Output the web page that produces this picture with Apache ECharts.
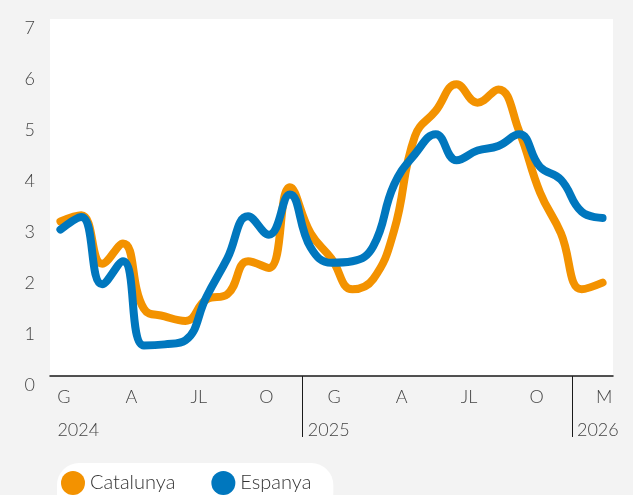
<!DOCTYPE html>
<html>
<head>
<meta charset="utf-8">
<script src="https://cdn.jsdelivr.net/npm/echarts@6/dist/echarts.min.js"></script>
<style>
html,body{margin:0;padding:0;background:#f3f3f3;}
#chart{width:633px;height:495px;}
</style>
</head>
<body>
<div id="chart"></div>
<script>
// Monthly data, Jan 2024 - Mar 2026
var months = ['2024-01','2024-02','2024-03','2024-04','2024-05','2024-06','2024-07','2024-08','2024-09','2024-10','2024-11','2024-12',
              '2025-01','2025-02','2025-03','2025-04','2025-05','2025-06','2025-07','2025-08','2025-09','2025-10','2025-11','2025-12',
              '2026-01','2026-02','2026-03'];
var catalunya = [3.03,3.15,2.2,2.6,1.32,1.17,1.08,1.5,1.6,2.25,2.12,3.7,
                 2.8,2.3,1.7,1.9,2.85,4.7,5.2,5.72,5.36,5.62,4.8,3.6,
                 2.8,1.7,1.83];
var espanya = [2.87,3.12,1.8,2.25,0.6,0.62,0.7,1.55,2.3,3.13,2.77,3.56,
               2.52,2.22,2.25,2.54,3.75,4.35,4.74,4.23,4.42,4.51,4.74,4.1,
               3.85,3.22,3.1];
var monthTicks = ['G','A','JL','O','G','A','JL','O','M'];
var yearTicks = ['2024','2025','2026'];
var seriesNames = ['Catalunya','Espanya'];
var colors = ['#f39200','#0077be'];

// label axis: 25 bands, a tick label every 3rd band
var labelCats = [];
for (var i = 0; i < 25; i++) labelCats.push(i % 3 === 0 ? monthTicks[i / 3] : '');
var yearPos = [0.33, 11.45, 23.4];
var sepPos = [11.22, 23.17];

var font = 'Lato, "Open Sans", sans-serif';
var chart = echarts.init(document.getElementById('chart'), null, {renderer:'canvas'});
chart.setOption({
  animation: false,
  backgroundColor: '#f3f3f3',
  grid: {left: 50, right: 20, top: 19, bottom: 119, show: true, backgroundColor: '#ffffff', borderWidth: 0},
  xAxis: [
    {type: 'category', data: months, boundaryGap: true, show: false},
    {type: 'category', data: labelCats, boundaryGap: true, position: 'bottom',
     axisLine: {show: true, lineStyle: {color: '#1a1a1a', width: 1.5}},
     axisTick: {show: false},
     axisLabel: {interval: 2, margin: 12, color: '#444', fontFamily: font, fontWeight: 300, fontSize: 18, padding: [0,0,0,5]},
     splitLine: {show: false}},
    {type: 'value', min: 0, max: 25, position: 'bottom',
     axisLine: {show: false},
     splitLine: {show: false},
     axisTick: {show: true, customValues: sepPos, length: 61, lineStyle: {color: '#1a1a1a', width: 1}},
     axisLabel: {show: true, customValues: yearPos, margin: 45, align: 'left', color: '#444', fontFamily: font, fontWeight: 300, fontSize: 18,
       formatter: function (v) { var k = yearPos.indexOf(v); return k >= 0 ? yearTicks[k] : ''; }}}
  ],
  yAxis: {type: 'value', min: 0, max: 7, interval: 1,
    axisLine: {show: false}, axisTick: {show: false}, splitLine: {show: false},
    axisLabel: {margin: 15, color: '#444', fontFamily: font, fontWeight: 300, fontSize: 18, verticalAlign: 'top', lineHeight: 18}},
  legend: {data: seriesNames, left: 57, top: 463, icon: 'circle', itemWidth: 24, itemHeight: 24, itemGap: 36,
    backgroundColor: '#ffffff', borderRadius: 22, padding: [8, 22, 20, 4],
    textStyle: {fontFamily: font, fontWeight: 300, fontSize: 20, color: '#333'}},
  series: [
    {name: seriesNames[0], type: 'line', xAxisIndex: 0, data: catalunya, smooth: 0.45, symbol: 'none',
     lineStyle: {color: colors[0], width: 8, cap: 'round', join: 'round'}, itemStyle: {color: colors[0]}},
    {name: seriesNames[1], type: 'line', xAxisIndex: 0, data: espanya, smooth: 0.45, symbol: 'none',
     lineStyle: {color: colors[1], width: 8, cap: 'round', join: 'round'}, itemStyle: {color: colors[1]}}
  ]
});
</script>
</body>
</html>
